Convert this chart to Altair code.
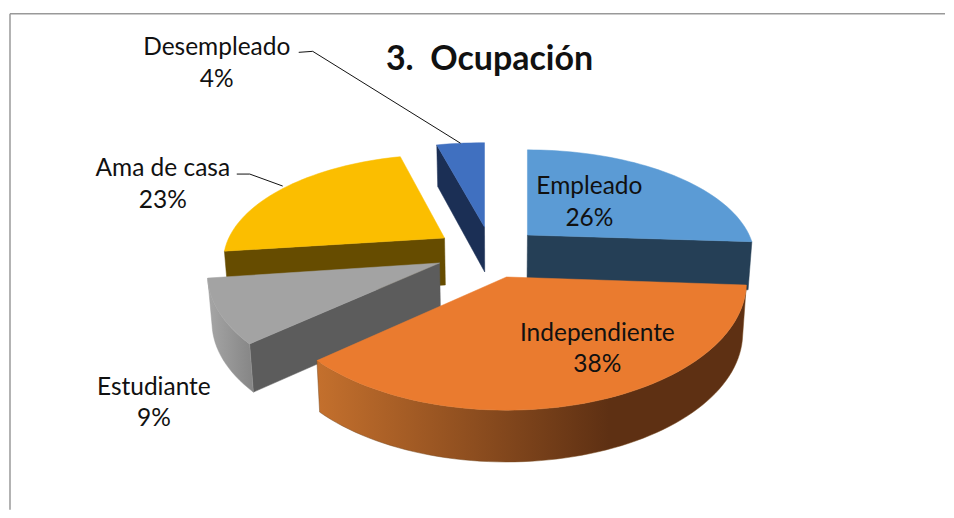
import math
import altair as alt
import pandas as pd

categories = ["Empleado", "Independiente", "Estudiante", "Ama de casa", "Desempleado"]
shares = [26, 38, 9, 23, 4]

# geometry of each exploded slice of the tilted pie
apex_x = [528, 507, 440, 445, 485]
apex_y = [235, 277, 263, 238, 227]
radius_x = [222, 240, 231, 216, 233]
radius_y = [104, 128, 119, 102, 103]
persp = [0.22, 0.04, 0.10, 0.22, 0.22]
depth = [48, 51, 47, 47, 45]

top_col = ["#5B9BD5", "#EA7B2F", "#A3A3A3", "#FBBE00", "#4070C0"]
wall_col = ["#253F56", "#5E3013", "#5C5C5C", "#664C00", "#1B2F55"]

label_x = [590, 598, 154, 163, 217]
label_y = [187, 334, 388, 169, 48]

W, H = 938, 502
X = alt.X("x:Q", scale=alt.Scale(domain=[8, 8 + W], nice=False, zero=False), axis=None)
Y = alt.Y("y:Q", scale=alt.Scale(domain=[8 + H, 8], nice=False, zero=False), axis=None)

starts = []
acc = 0
for s in shares:
    starts.append(acc)
    acc += s * 3.6


def pt(i, deg, down=False):
    a = math.radians(deg)
    den = 1 + persp[i] * math.cos(a)
    x = apex_x[i] + radius_x[i] * math.sin(a) / den
    y = apex_y[i] - radius_y[i] * math.cos(a) / den
    if down:
        y += depth[i] / den ** 0.4
        x += 0.015 * (500 - x)
    return x, y


def apex(i, down=False):
    return (
        apex_x[i] + (0.015 * (500 - apex_x[i]) if down else 0),
        apex_y[i] + (depth[i] if down else 0),
    )


def arc(i, a0, a1, down=False):
    n = max(2, int(abs(a1 - a0) / 2))
    return [pt(i, a0 + (a1 - a0) * j / n, down) for j in range(n + 1)]


def poly(points, fill, stroke=None):
    df = pd.DataFrame(points, columns=["x", "y"])
    df["i"] = range(len(df))
    return alt.Chart(df).mark_line(
        fill=fill,
        stroke=stroke if stroke else (fill if isinstance(fill, str) else "#7a4a20"),
        strokeWidth=0.5,
        interpolate="linear-closed",
    ).encode(x=X, y=Y, order="i:Q")


def radial_wall(i, deg, col):
    return poly([apex(i), pt(i, deg), pt(i, deg, True), apex(i, True)], col)


def top(i):
    return poly([apex(i)] + arc(i, starts[i], starts[i] + shares[i] * 3.6), top_col[i])


def outer_wall(i, a0, a1, fill, stroke=None):
    return poly(arc(i, a0, a1) + arc(i, a1, a0, True), fill, stroke)


orange_grad = alt.Gradient(
    gradient="linear", x1=0, x2=1, y1=0, y2=0,
    stops=[alt.GradientStop(color="#C4702D", offset=0),
           alt.GradientStop(color="#5E3013", offset=0.68),
           alt.GradientStop(color="#5E3013", offset=1)],
)
grey_grad = alt.Gradient(
    gradient="linear", x1=0, x2=1, y1=0, y2=0,
    stops=[alt.GradientStop(color="#A6A6A6", offset=0),
           alt.GradientStop(color="#858585", offset=1)],
)

layers = [
    radial_wall(0, starts[1], wall_col[0]),
    top(0),
    radial_wall(4, starts[4], wall_col[4]),
    top(4),
    radial_wall(3, starts[3], wall_col[3]),
    top(3),
    radial_wall(2, starts[2], wall_col[2]),
    outer_wall(2, starts[2], starts[3], grey_grad, "#999999"),
    top(2),
    outer_wall(1, starts[1], starts[2], orange_grad),
    top(1),
]

# frame
frame = pd.DataFrame({"x": [10, 10], "x2": [8 + W, 10], "y": [13.5, 13.5], "y2": [13.5, 8 + H]})
layers.append(
    alt.Chart(frame).mark_rule(color="#999999", strokeWidth=1.5).encode(
        x=X, x2="x2:Q", y=Y, y2="y2:Q"
    )
)

# leader lines, ending at the middle of each outer slice edge
mid4 = pt(4, starts[4] + shares[4] * 1.8)
mid3 = pt(3, starts[3] + shares[3] * 1.8)
lead = pd.DataFrame(
    [(mid4[0], mid4[1], "d", 0), (mid4[0] - 148, mid4[1] - 92, "d", 1), (mid4[0] - 162, mid4[1] - 91, "d", 2),
     (mid3[0] - 3, mid3[1] - 1, "a", 0), (mid3[0] - 36, mid3[1] - 13, "a", 1), (mid3[0] - 49, mid3[1] - 13, "a", 2)],
    columns=["x", "y", "g", "i"],
)
layers.append(
    alt.Chart(lead).mark_line(color="#111111", strokeWidth=1).encode(
        x=X, y=Y, detail="g:N", order="i:Q"
    )
)

# labels
rows = []
for i, c in enumerate(categories):
    rows.append({"x": label_x[i], "y": label_y[i], "t": c})
    rows.append({"x": label_x[i], "y": label_y[i] + 31.5, "t": f"{shares[i]}%"})
layers.append(
    alt.Chart(pd.DataFrame(rows)).mark_text(
        font="Lato", fontSize=24.5, color="#111111", align="center", baseline="middle"
    ).encode(x=X, y=Y, text="t:N")
)
layers.append(
    alt.Chart(pd.DataFrame({"x": [490], "y": [60], "t": ["3.\u00a0\u00a0Ocupación"]})).mark_text(
        font="Lato", fontSize=34, fontWeight="bold", color="#111111", align="center", baseline="middle"
    ).encode(x=X, y=Y, text="t:N")
)

chart = alt.layer(*layers).properties(
    width=W, height=H, padding=0, background="white"
).configure_view(stroke=None)

chart.save("out.html", embed_options={"renderer": "svg", "actions": False})
